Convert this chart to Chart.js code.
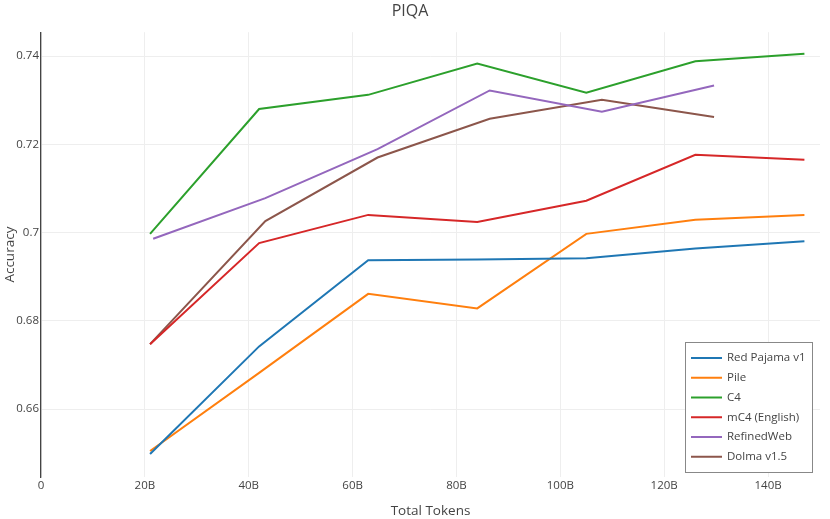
<!DOCTYPE html>
<html>
<head>
<meta charset="utf-8">
<title>PIQA</title>
<script src="https://cdn.jsdelivr.net/npm/chart.js@4"></script>
<style>
  html, body { margin: 0; padding: 0; background: #fff; }
  .chart-wrap { position: relative; width: 830px; height: 519px; }
</style>
</head>
<body>
<div class="chart-wrap"><canvas id="piqaChart"></canvas></div>
<script>
// tokens (billions) for each run
const tokensA = [21, 42, 63, 84, 105, 126, 147];
const tokensRefinedWeb = [21.6, 43.2, 64.8, 86.4, 108, 129.6];
const tokensDolma = [21, 43.2, 64.8, 86.4, 108, 129.6];

const redPajama = [0.6498, 0.6742, 0.6937, 0.6939, 0.6942, 0.6964, 0.6980];
const pile = [0.6505, 0.6682, 0.6861, 0.6828, 0.6997, 0.7029, 0.7040];
const c4 = [0.6997, 0.7280, 0.7312, 0.7383, 0.7317, 0.7388, 0.7405];
const mc4 = [0.6747, 0.6976, 0.7040, 0.7024, 0.7072, 0.7176, 0.7165];
const refinedWeb = [0.6986, 0.7078, 0.7189, 0.7322, 0.7274, 0.7333];
const dolma = [0.6747, 0.7026, 0.7170, 0.7258, 0.7301, 0.7262];

const seriesNames = ["Red Pajama v1", "Pile", "C4", "mC4 (English)", "RefinedWeb", "Dolma v1.5"];
const seriesColors = ["#1f77b4", "#ff7f0e", "#2ca02c", "#d62728", "#9467bd", "#8c564b"];

const xTicks = [0, 20, 40, 60, 80, 100, 120, 140];
const yTicks = [0.66, 0.68, 0.70, 0.72, 0.74];

(() => {
  const FONT = "'Open Sans', 'DejaVu Sans', sans-serif";
  const TEXT = "#444";

  function points(xs, ys) {
    return ys.map((y, i) => ({ x: xs[i], y: y }));
  }

  const seriesData = [
    points(tokensA, redPajama),
    points(tokensA, pile),
    points(tokensA, c4),
    points(tokensA, mc4),
    points(tokensRefinedWeb, refinedWeb),
    points(tokensDolma, dolma)
  ];

  // plotly-like boxed legend in the lower right corner of the plot
  const boxLegend = {
    id: "boxLegend",
    afterDraw(chart) {
      const ctx = chart.ctx;
      const area = chart.chartArea;
      const right = area.right - 8;
      const bottom = area.bottom - 5;
      const w = 127;
      const rowH = 19.75;
      const h = 130;
      const left = right - w;
      const top = bottom - h;

      ctx.save();
      ctx.fillStyle = "#fff";
      ctx.fillRect(left, top, w, h);
      ctx.strokeStyle = "#888";
      ctx.lineWidth = 1;
      ctx.strokeRect(left + 0.5, top + 0.5, w, h);

      ctx.font = "11.5px " + FONT;
      ctx.textBaseline = "middle";
      chart.data.datasets.forEach((ds, i) => {
        const y = top + 16 + i * rowH;
        ctx.strokeStyle = ds.borderColor;
        ctx.lineWidth = 2;
        ctx.beginPath();
        ctx.moveTo(left + 6, y);
        ctx.lineTo(left + 37, y);
        ctx.stroke();
        ctx.fillStyle = TEXT;
        ctx.fillText(ds.label, left + 42, y);
      });
      ctx.restore();
    }
  };

  function renderChart() {
    const canvas = document.getElementById("piqaChart");
    if (!canvas || typeof Chart === "undefined") return;

    new Chart(canvas.getContext("2d"), {
      type: "line",
      data: {
        datasets: seriesNames.map((name, i) => ({
          label: name,
          data: seriesData[i],
          borderColor: seriesColors[i],
          backgroundColor: seriesColors[i],
          borderWidth: 2,
          pointRadius: 0,
          tension: 0,
          fill: false
        }))
      },
      options: {
        responsive: true,
        maintainAspectRatio: false,
        animation: false,
        layout: {
          padding: { left: 0, right: 10, top: 0, bottom: 0 }
        },
        plugins: {
          legend: { display: false },
          tooltip: { enabled: false },
          title: {
            display: true,
            text: "PIQA",
            color: TEXT,
            font: { family: FONT, size: 16, weight: "normal" },
            padding: { top: 2, bottom: 11 }
          }
        },
        scales: {
          x: {
            type: "linear",
            min: 0,
            max: 150,
            afterFit(scale) { scale.height = 42; },
            afterBuildTicks(scale) {
              scale.ticks = xTicks.map((v) => ({ value: v }));
            },
            ticks: {
              color: TEXT,
              font: { family: FONT, size: 11.5 },
              padding: 2,
              maxRotation: 0,
              callback: (v) => (v === 0 ? "0" : v + "B")
            },
            grid: { color: "#eee", lineWidth: 1, drawTicks: false },
            border: { display: false },
            title: {
              display: true,
              text: "Total Tokens",
              color: TEXT,
              font: { family: FONT, size: 13.5 },
              padding: { top: 0, bottom: 0 }
            }
          },
          y: {
            min: 0.6446,
            max: 0.7454,
            afterFit(scale) { scale.width = 41; },
            afterBuildTicks(scale) {
              scale.ticks = yTicks.map((v) => ({ value: v }));
            },
            ticks: {
              color: TEXT,
              font: { family: FONT, size: 11.5 },
              padding: 2,
              callback: (v) => String(Number(v.toFixed(2)))
            },
            grid: { color: "#eee", lineWidth: 1, drawTicks: false },
            border: { display: true, color: "#444", width: 1.3 },
            title: {
              display: true,
              text: "Accuracy",
              color: TEXT,
              font: { family: FONT, size: 13.5 },
              padding: { top: 2, bottom: 0 }
            }
          }
        }
      },
      plugins: [boxLegend]
    });
  }

  if (document.readyState === "loading") {
    document.addEventListener("DOMContentLoaded", renderChart);
  } else {
    renderChart();
  }
})();
</script>
</body>
</html>
